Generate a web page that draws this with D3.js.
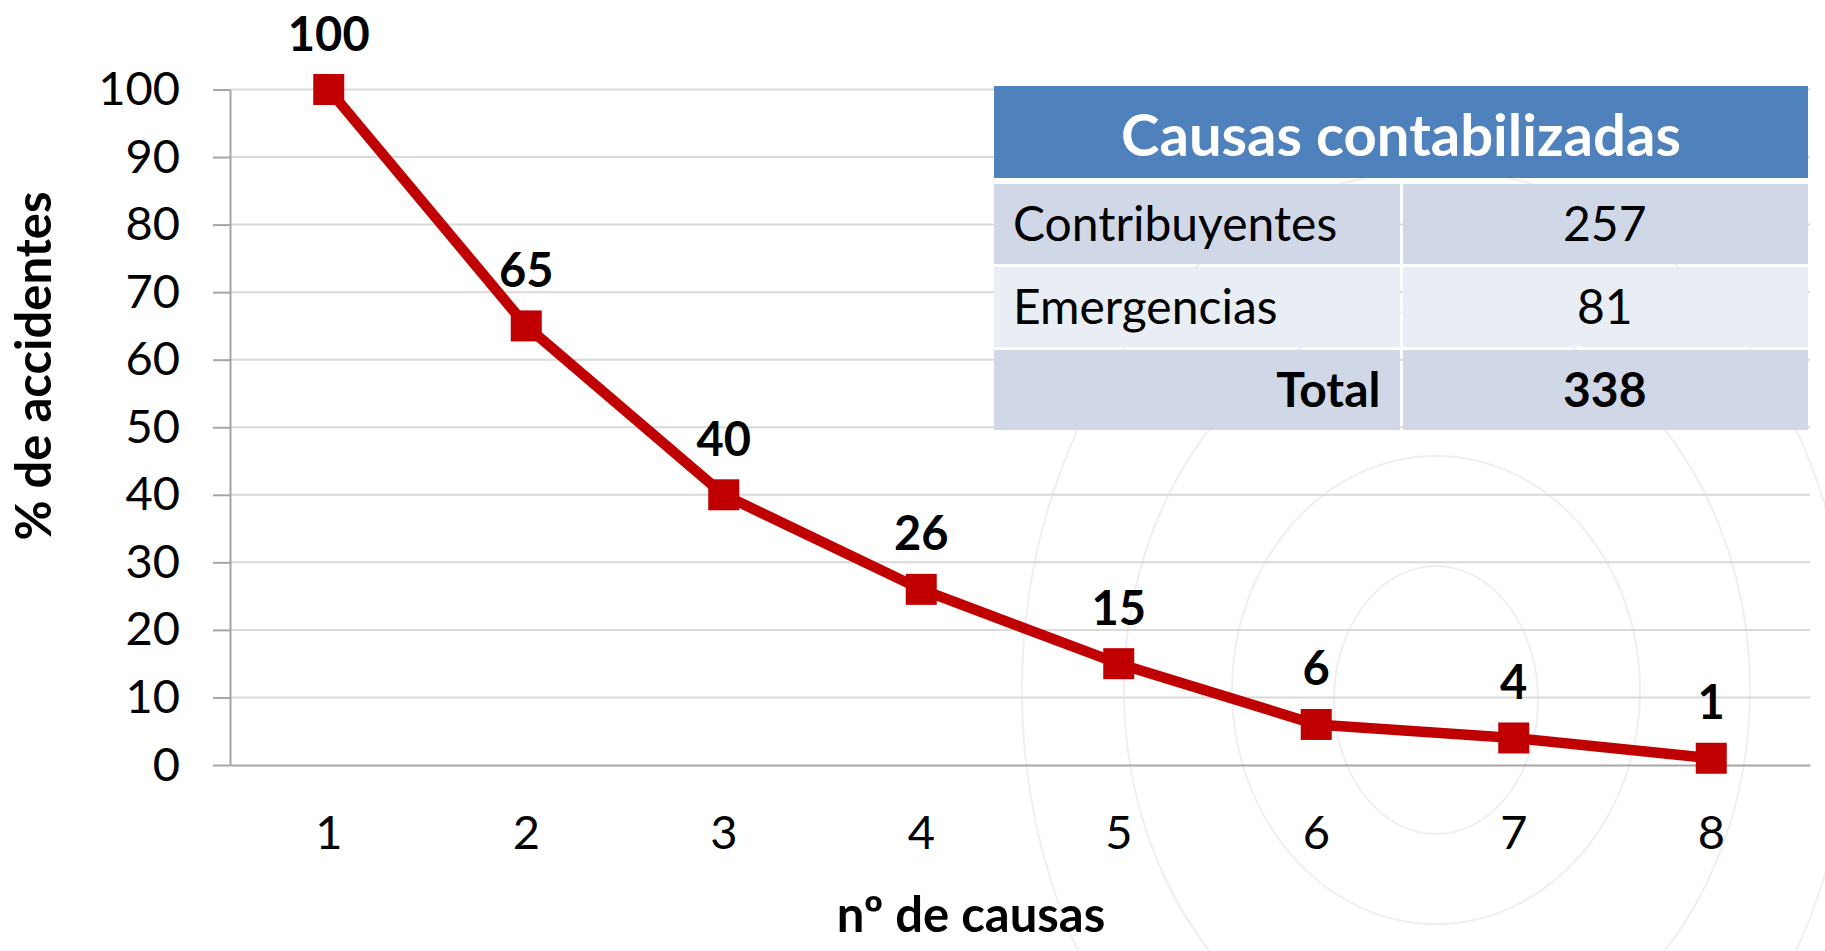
<!DOCTYPE html>
<html>
<head>
<meta charset="utf-8">
<script src="https://cdn.jsdelivr.net/npm/d3@7"></script>
<style>
    body { margin: 0; background: #fff; }
    text { font-family: Lato, "Noto Sans", sans-serif; }
</style>
</head>
<body>
<script>
var causas = ["1", "2", "3", "4", "5", "6", "7", "8"];
var pctAccidentes = [100, 65, 40, 26, 15, 6, 4, 1];
var yTicks = [0, 10, 20, 30, 40, 50, 60, 70, 80, 90, 100];

var tablaTitulo = "Causas contabilizadas";
var tablaEtiquetas = ["Contribuyentes", "Emergencias", "Total"];
var tablaValores = [257, 81, 338];

var width = 1825, height = 951;
var plot = {left: 230, right: 1810, top: 89.5, bottom: 765};

var svg = d3.select("body").append("svg")
    .attr("width", width)
    .attr("height", height);

// faint swirl watermark in the background
var swirl = [
    {cx: 1437, cy: 690, rx: 415, ry: 520},
    {cx: 1437, cy: 690, rx: 313, ry: 380},
    {cx: 1436, cy: 690, rx: 204, ry: 234},
    {cx: 1436, cy: 700, rx: 102, ry: 134}
];
svg.append("g").selectAll("ellipse")
    .data(swirl)
    .enter().append("ellipse")
    .attr("cx", function (d) { return d.cx; })
    .attr("cy", function (d) { return d.cy; })
    .attr("rx", function (d) { return d.rx; })
    .attr("ry", function (d) { return d.ry; })
    .attr("fill", "none")
    .attr("stroke", "#efefef")
    .attr("stroke-width", 2);

var xScale = d3.scaleBand()
    .domain(causas)
    .range([plot.left, plot.right]);

var yScale = d3.scaleLinear()
    .domain([0, 100])
    .range([plot.bottom, plot.top]);

var data = causas.map(function (c, i) {
    return {causa: c, pct: pctAccidentes[i]};
});

// grid
svg.append("g").selectAll("line")
    .data(yTicks.filter(function (t) { return t > 0; }))
    .enter().append("line")
    .attr("x1", plot.left)
    .attr("x2", plot.right)
    .attr("y1", function (d) { return yScale(d); })
    .attr("y2", function (d) { return yScale(d); })
    .attr("stroke", "#d9d9d9")
    .attr("stroke-width", 2);

var yAxis = d3.axisLeft(yScale)
    .tickValues(yTicks)
    .tickSize(17)
    .tickPadding(33)
    .tickSizeOuter(0);

var gy = svg.append("g")
    .attr("transform", "translate(" + plot.left + ",0)")
    .call(yAxis);
gy.select(".domain").attr("stroke", "#a6a6a6").attr("stroke-width", 2);
gy.selectAll(".tick line").attr("stroke", "#a6a6a6").attr("stroke-width", 2);
gy.selectAll(".tick text")
    .attr("font-size", 47)
    .attr("fill", "#000")
    .style("font-family", "Lato");

var xAxis = d3.axisBottom(xScale)
    .tickSize(0)
    .tickPadding(51)
    .tickSizeOuter(0);

var gx = svg.append("g")
    .attr("transform", "translate(0," + plot.bottom + ")")
    .call(xAxis);
gx.select(".domain").attr("stroke", "#a6a6a6").attr("stroke-width", 2);
gx.selectAll(".tick text")
    .attr("font-size", 47)
    .attr("fill", "#000")
    .style("font-family", "Lato");

// axis titles
svg.append("text")
    .attr("transform", "translate(51,366) rotate(-90)")
    .attr("text-anchor", "middle")
    .attr("font-size", 49)
    .attr("font-weight", "bold")
    .text("% de accidentes");

svg.append("text")
    .attr("x", 971)
    .attr("y", 932)
    .attr("text-anchor", "middle")
    .attr("font-size", 49)
    .attr("font-weight", "bold")
    .text("nº de causas");

// table
var tabla = {left: 994, mid: 1401.5, right: 1808, top: 86, headBottom: 178};
var tablaG = svg.append("g");

tablaG.append("rect")
    .attr("x", tabla.left)
    .attr("y", tabla.top)
    .attr("width", tabla.right - tabla.left)
    .attr("height", tabla.headBottom - tabla.top)
    .attr("fill", "#4f81bd");

tablaG.append("text")
    .attr("x", (tabla.left + tabla.right) / 2)
    .attr("y", 156)
    .attr("text-anchor", "middle")
    .attr("font-size", 58)
    .attr("font-weight", "bold")
    .attr("fill", "#fff")
    .text(tablaTitulo);

var rowScale = d3.scaleBand()
    .domain(tablaEtiquetas)
    .range([184, 430])
    .paddingInner(0.035);

var filas = tablaG.selectAll("g.fila")
    .data(tablaEtiquetas)
    .enter().append("g")
    .attr("class", "fila")
    .attr("transform", function (d) { return "translate(0," + rowScale(d) + ")"; });

filas.append("rect")
    .attr("x", tabla.left)
    .attr("width", tabla.mid - 1.5 - tabla.left)
    .attr("height", rowScale.bandwidth())
    .attr("fill", function (d, i) { return i === 1 ? "#e9edf4" : "#d0d8e8"; });

filas.append("rect")
    .attr("x", tabla.mid + 1.5)
    .attr("width", tabla.right - tabla.mid - 1.5)
    .attr("height", rowScale.bandwidth())
    .attr("fill", function (d, i) { return i === 1 ? "#e9edf4" : "#d0d8e8"; });

filas.append("text")
    .attr("x", function (d, i) { return i === 2 ? tabla.mid - 21 : tabla.left + 19; })
    .attr("y", rowScale.bandwidth() / 2 + 17)
    .attr("text-anchor", function (d, i) { return i === 2 ? "end" : "start"; })
    .attr("font-size", 48)
    .attr("font-weight", function (d, i) { return i === 2 ? "bold" : "normal"; })
    .text(function (d) { return d; });

filas.append("text")
    .attr("x", (tabla.mid + tabla.right) / 2)
    .attr("y", rowScale.bandwidth() / 2 + 17)
    .attr("text-anchor", "middle")
    .attr("font-size", 48)
    .attr("font-weight", function (d, i) { return i === 2 ? "bold" : "normal"; })
    .text(function (d, i) { return tablaValores[i]; });

// series
var cx = function (d) { return xScale(d.causa) + xScale.bandwidth() / 2; };

var line = d3.line()
    .x(cx)
    .y(function (d) { return yScale(d.pct); });

svg.append("path")
    .datum(data)
    .attr("d", line)
    .attr("fill", "none")
    .attr("stroke", "#c00000")
    .attr("stroke-width", 10.5)
    .attr("stroke-linejoin", "round");

var markerSize = 31;
svg.append("g").selectAll("rect")
    .data(data)
    .enter().append("rect")
    .attr("x", function (d) { return cx(d) - markerSize / 2; })
    .attr("y", function (d) { return yScale(d.pct) - markerSize / 2; })
    .attr("width", markerSize)
    .attr("height", markerSize)
    .attr("fill", "#c00000");

svg.append("g").selectAll("text")
    .data(data)
    .enter().append("text")
    .attr("x", cx)
    .attr("y", function (d) { return yScale(d.pct) - 39; })
    .attr("text-anchor", "middle")
    .attr("font-size", 47)
    .attr("font-weight", "bold")
    .text(function (d) { return d.pct; });
</script>
</body>
</html>
